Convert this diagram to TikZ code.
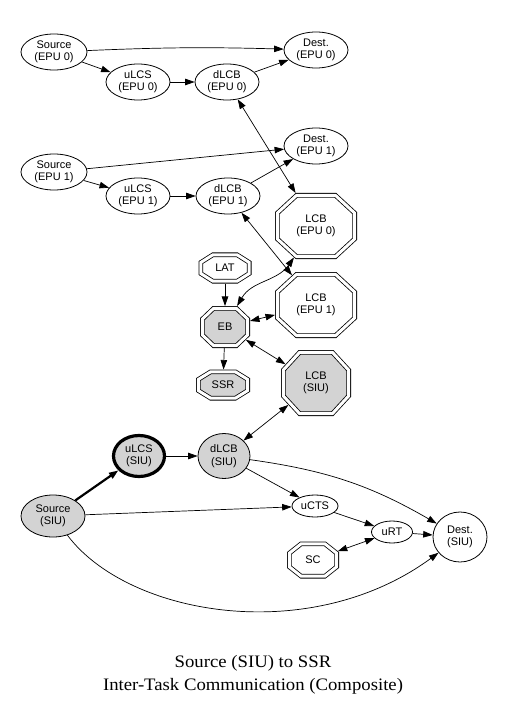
\documentclass[tikz,border=0pt]{standalone}
\usepackage{fontspec}
\setmainfont{Liberation Serif}
\newfontfamily\nodefont{Liberation Sans}
\usetikzlibrary{shapes.geometric,arrows.meta}
\definecolor{nodegray}{RGB}{211,211,211}
\makeatletter
\def\gv@kx{0.5}
\def\gv@ky{0.42}
\def\gv@getbox#1{%
  \southwest\edef\gv@swx{\pgf@sys@tonumber\pgf@x}\edef\gv@swy{\pgf@sys@tonumber\pgf@y}%
  \northeast\edef\gv@nex{\pgf@sys@tonumber\pgf@x}\edef\gv@ney{\pgf@sys@tonumber\pgf@y}%
  \pgfmathsetmacro\gv@ox{#1*\pgfkeysvalueof{/pgf/outer xsep}}%
  \pgfmathsetmacro\gv@oy{#1*\pgfkeysvalueof{/pgf/outer ysep}}%
  \pgfmathsetmacro\gv@cx{(\gv@swx+\gv@nex)/2}%
  \pgfmathsetmacro\gv@cy{(\gv@swy+\gv@ney)/2}%
  \pgfmathsetmacro\gv@a{(\gv@nex-\gv@swx)/2-\gv@ox}%
  \pgfmathsetmacro\gv@b{(\gv@ney-\gv@swy)/2-\gv@oy}%
}
\pgfdeclareshape{gvoctagon}{%
  \inheritsavedanchors[from=rectangle]%
  \inheritanchor[from=rectangle]{center}%
  \inheritanchor[from=rectangle]{mid}%
  \inheritanchor[from=rectangle]{base}%
  \inheritanchor[from=rectangle]{north}%
  \inheritanchor[from=rectangle]{south}%
  \inheritanchor[from=rectangle]{east}%
  \inheritanchor[from=rectangle]{west}%
  \backgroundpath{%
    \gv@getbox{1}%
    \pgfpathmoveto{\pgfpoint{\gv@cx+\gv@kx*\gv@a}{\gv@cy+\gv@b}}%
    \pgfpathlineto{\pgfpoint{\gv@cx+\gv@a}{\gv@cy+\gv@ky*\gv@b}}%
    \pgfpathlineto{\pgfpoint{\gv@cx+\gv@a}{\gv@cy-\gv@ky*\gv@b}}%
    \pgfpathlineto{\pgfpoint{\gv@cx+\gv@kx*\gv@a}{\gv@cy-\gv@b}}%
    \pgfpathlineto{\pgfpoint{\gv@cx-\gv@kx*\gv@a}{\gv@cy-\gv@b}}%
    \pgfpathlineto{\pgfpoint{\gv@cx-\gv@a}{\gv@cy-\gv@ky*\gv@b}}%
    \pgfpathlineto{\pgfpoint{\gv@cx-\gv@a}{\gv@cy+\gv@ky*\gv@b}}%
    \pgfpathlineto{\pgfpoint{\gv@cx-\gv@kx*\gv@a}{\gv@cy+\gv@b}}%
    \pgfpathclose
  }%
  \anchorborder{%
    \edef\gv@dx{\pgf@sys@tonumber\pgf@x}\edef\gv@dy{\pgf@sys@tonumber\pgf@y}%
    \gv@getbox{0}%
    \pgfmathsetmacro\gv@len{max(veclen(\gv@dx,\gv@dy),0.0001)}%
    \pgfmathsetmacro\gv@ux{\gv@dx/\gv@len}%
    \pgfmathsetmacro\gv@uy{\gv@dy/\gv@len}%
    \pgfmathsetmacro\gv@t{1/max(abs(\gv@ux)/\gv@a, abs(\gv@uy)/\gv@b,
        ((1-\gv@ky)*abs(\gv@ux)/\gv@a+(1-\gv@kx)*abs(\gv@uy)/\gv@b)/(1-\gv@kx*\gv@ky))}%
    \pgfmathsetmacro\gv@rx{\gv@cx+\gv@t*\gv@ux}%
    \pgfmathsetmacro\gv@ry{\gv@cy+\gv@t*\gv@uy}%
    \pgf@x=\gv@rx pt\relax
    \pgf@y=\gv@ry pt\relax
  }%
}
\makeatother
\begin{document}
\begin{tikzpicture}[x=1pt,y=-1pt,
  every node/.style={font=\nodefont\fontsize{11}{12.3}\selectfont, align=center, inner sep=0pt},
  ell/.style n args={2}{ellipse, draw, line width=0.8pt, minimum width=#1, minimum height=#2},
  oct/.style n args={2}{gvoctagon, draw, double=white, double distance=3pt, line width=0.8pt,
      minimum width=#1-4.6pt, minimum height=#2-4.6pt, outer sep=2.3pt},
  gray/.style={fill=nodegray},
  tip/.tip={Triangle[length=9.5pt,width=6.5pt]},
  arr/.style={-tip, line width=0.7pt},
  biarr/.style={tip-tip, line width=0.7pt}
]
\useasboundingbox (0,0) rectangle (505,708);
% EPU 0
\node[ell={66pt}{36pt}] (s0) at (54,52) {Source\\(EPU 0)};
\node[ell={64pt}{36pt}] (d0) at (316,50) {Dest.\\(EPU 0)};
\node[ell={64pt}{36pt}] (u0) at (138,82) {uLCS\\(EPU 0)};
\node[ell={64pt}{36pt}] (l0) at (227,82) {dLCB\\(EPU 0)};
% EPU 1
\node[ell={66pt}{36pt}] (s1) at (54,172) {Source\\(EPU 1)};
\node[ell={64pt}{36pt}] (d1) at (316,146) {Dest.\\(EPU 1)};
\node[ell={64pt}{36pt}] (u1) at (138,196) {uLCS\\(EPU 1)};
\node[ell={64pt}{36pt}] (l1) at (228,196) {dLCB\\(EPU 1)};
% octagons
\node[oct={82pt}{66pt}] (lcb0) at (316,226) {LCB\\(EPU 0)};
\node[oct={82pt}{66pt}] (lcb1) at (316,305) {LCB\\(EPU 1)};
\node[oct={53pt}{31pt}] (lat) at (225,268) {LAT};
\node[oct={50pt}{42pt}, gray] (eb) at (225,327) {EB};
\node[oct={54pt}{31pt}, gray] (ssr) at (223,385) {SSR};
\node[oct={70pt}{66pt}, gray] (lcbs) at (316,383) {LCB\\(SIU)};
% SIU
\node[ell={51pt}{41pt}, gray, line width=3.2pt] (us) at (139,456) {uLCS\\(SIU)};
\node[ell={52pt}{45pt}, gray] (ls) at (224,456) {dLCB\\(SIU)};
\node[ell={64pt}{42pt}, gray] (ss) at (53,516) {Source\\(SIU)};
\node[ell={46pt}{22pt}] (ucts) at (315,506) {uCTS};
\node[ell={41pt}{22pt}] (urt) at (392,532) {uRT};
\node[ell={54pt}{50pt}] (ds) at (460,537) {Dest.\\(SIU)};
\node[oct={52pt}{37pt}] (sc) at (313,560) {SC};
% caption
\node[font=\fontsize{17.5}{23}\selectfont] (cap) at (253,675)
  {\scalebox{1.07}[1]{Source (SIU) to SSR}\\\scalebox{1.07}[1]{Inter-Task Communication (Composite)}};
% edges EPU 0
\draw[arr] (s0) to[bend left=2] (d0);
\draw[arr] (s0) -- (u0);
\draw[arr] (u0) -- (l0);
\draw[arr] (l0) -- (d0);
\draw[biarr] (l0) -- (lcb0);
% edges EPU 1
\draw[arr] (s1) -- (d1);
\draw[arr] (s1) -- (u1);
\draw[arr] (u1) -- (l1);
\draw[arr] (l1) -- (d1);
\draw[biarr] (l1) -- (lcb1);
% EB
\draw[arr] (lat) -- (eb);
\draw[arr] (eb) -- (ssr);
\draw[biarr] (eb) to[out=60,in=-125] (lcb0);
\draw[biarr] (eb) -- (lcb1);
\draw[biarr] (eb) -- (lcbs);
\draw[biarr] (ls) -- (lcbs);
% SIU
\draw[arr, line width=2.2pt] (ss) -- (us);
\draw[arr] (us) -- (ls);
\draw[arr] (ls) -- (ucts);
\draw[arr] (ls) to[out=-8,in=150] (ds);
\draw[arr] (ss) -- (ucts);
\draw[arr] (ucts) -- (urt);
\draw[arr] (urt) -- (ds);
\draw[biarr] (sc) -- (urt);
\draw[arr] (ss) .. controls +(75,100) and +(-150,110) .. (ds);
\end{tikzpicture}
\end{document}
